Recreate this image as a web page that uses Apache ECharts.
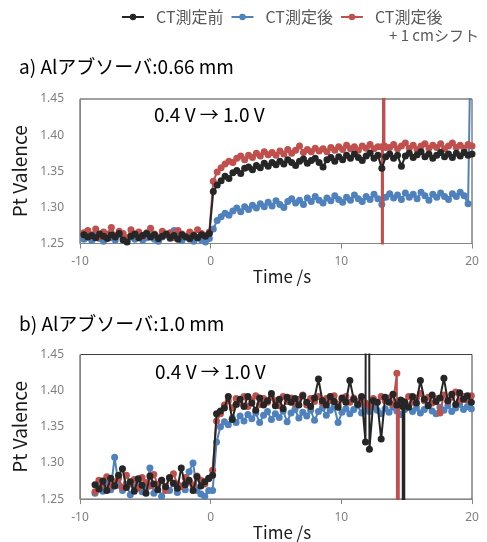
<!DOCTYPE html>
<html><head><meta charset="utf-8">
<script src="https://cdn.jsdelivr.net/npm/echarts/dist/echarts.min.js"></script>
<style>html,body{margin:0;padding:0;background:#fff}#c{width:487px;height:542px}</style>
</head><body><div id="c"></div>
<script>
// ---- data ----
const seriesNames = ['CT測定前', 'CT測定後', 'CT測定後 + 1 cmシフト'];
const panelTitles = ['a) Alアブソーバ:0.66 mm', 'b) Alアブソーバ:1.0 mm'];
const annotation = '0.4 V → 1.0 V';
const xTicks = [-10, 0, 10, 20];
const yTicks = [1.25, 1.30, 1.35, 1.40, 1.45];

// panel a: samples every 0.3 s starting at -9.7 s
const timeStartA = -9.7, timeStepA = 0.3;
const blackA = [
 1.262,1.259,1.261,1.258,1.263,1.260,1.257,1.262,1.259,1.264,
 1.255,1.252,1.260,1.263,1.258,1.261,1.264,1.259,1.262,1.257,
 1.260,1.263,1.258,1.261,1.256,1.262,1.259,1.257,1.261,1.258,
 1.262,1.260,1.264,1.322,1.331,1.337,1.343,1.340,1.348,1.351,
 1.347,1.354,1.356,1.352,1.358,1.355,1.361,1.357,1.362,1.359,
 1.364,1.360,1.366,1.362,1.358,1.364,1.367,1.361,1.365,1.368,
 1.362,1.356,1.366,1.369,1.364,1.370,1.366,1.372,1.368,1.374,
 1.369,1.365,1.371,1.375,1.368,1.372,1.354,1.370,1.374,1.368,
 1.372,1.357,1.371,1.375,1.369,1.373,1.377,1.370,1.374,1.368,
 1.372,1.376,1.370,1.374,1.369,1.375,1.371,1.376,1.372,1.374
];
const blueA = [
 1.256,1.259,1.254,1.261,1.257,1.253,1.260,1.258,1.255,1.262,
 1.257,1.254,1.259,1.256,1.261,1.255,1.258,1.263,1.256,1.253,
 1.259,1.262,1.257,1.268,1.258,1.254,1.260,1.256,1.253,1.258,
 1.255,1.252,1.257,1.270,1.282,1.287,1.292,1.289,1.295,1.299,
 1.294,1.301,1.297,1.303,1.299,1.305,1.301,1.307,1.302,1.309,
 1.304,1.300,1.308,1.312,1.306,1.310,1.304,1.313,1.308,1.315,
 1.310,1.306,1.313,1.309,1.316,1.311,1.307,1.314,1.310,1.317,
 1.312,1.308,1.315,1.311,1.318,1.312,1.304,1.314,1.319,1.313,
 1.317,1.311,1.320,1.314,1.318,1.312,1.321,1.316,1.310,1.318,
 1.314,1.320,1.315,1.311,1.319,1.315,1.321,1.316,1.305,1.650
];
const redA = [
 1.265,1.268,1.262,1.270,1.259,1.266,1.263,1.272,1.261,1.267,
 1.264,1.258,1.269,1.262,1.266,1.260,1.265,1.271,1.263,1.259,
 1.267,1.262,1.265,1.258,1.268,1.263,1.260,1.266,1.262,1.269,
 1.264,1.261,1.266,1.336,1.349,1.355,1.360,1.364,1.362,1.368,
 1.371,1.366,1.372,1.369,1.375,1.371,1.377,1.373,1.376,1.372,
 1.378,1.374,1.380,1.375,1.379,1.385,1.376,1.380,1.377,1.382,
 1.378,1.381,1.377,1.383,1.379,1.384,1.380,1.386,1.381,1.384,
 1.379,1.385,1.382,1.387,1.381,1.384,1.384,1.383,1.383,1.387,
 1.381,1.385,1.389,1.382,1.386,1.380,1.385,1.388,1.382,1.386,
 1.383,1.388,1.381,1.385,1.389,1.383,1.386,1.382,1.387,1.385
];
// extra [time, value] samples read around the glitch at ~13.2 s
const redAExtra = [[13.15, -3.0], [13.2, 3.0], [13.3, 1.385]];

// panel b: samples every 0.3 s starting at -8.85 s
const timeStartB = -8.85, timeStepB = 0.3;
const blackB = [
 1.270,1.264,1.275,1.262,1.279,1.268,1.283,1.292,1.266,1.274,
 1.261,1.278,1.269,1.258,1.282,1.271,1.263,1.276,1.267,1.280,
 1.272,1.265,1.293,1.270,1.276,1.262,1.281,1.268,1.274,1.279,
 1.283,1.368,1.372,1.376,1.392,1.360,1.381,1.388,1.378,1.392,
 1.383,1.373,1.390,1.380,1.386,1.396,1.379,1.388,1.375,1.391,
 1.384,1.389,1.380,1.393,1.384,1.378,1.390,1.416,1.386,1.380,
 1.392,1.385,1.377,1.390,1.384,1.414,1.388,1.381,1.392,1.329,
 1.319,1.386,1.384,1.333,1.391,1.384,1.395,1.380,1.387,1.384,
 1.377,1.392,1.383,1.414,1.388,1.379,1.394,1.385,1.390,1.417,
 1.386,1.395,1.381,1.397,1.388,1.393,1.384
];
const blackBExtra = [[12.0, 3.0], [14.7, 1.378], [14.75, -3.0], [14.82, 1.380]];
const blueB = [
 1.258,1.266,1.261,1.272,1.263,1.308,1.269,1.262,1.270,1.256,
 1.267,1.274,1.260,1.265,1.293,1.258,1.270,1.254,1.266,1.262,
 1.272,1.259,1.268,1.263,1.288,1.300,1.262,1.257,1.254,1.262,
 1.262,1.329,1.350,1.357,1.353,1.362,1.356,1.365,1.358,1.367,
 1.361,1.369,1.356,1.366,1.371,1.360,1.368,1.363,1.372,1.357,
 1.369,1.374,1.362,1.370,1.365,1.373,1.359,1.371,1.376,1.366,
 1.373,1.378,1.356,1.370,1.375,1.368,1.374,1.379,1.369,1.376,
 1.371,1.378,1.373,1.368,1.375,1.370,1.377,1.372,1.367,1.374,
 1.379,1.371,1.376,1.369,1.374,1.380,1.372,1.368,1.377,1.373,
 1.379,1.371,1.376,1.381,1.374,1.378,1.375
];
const redB = [
 1.260,1.276,1.270,1.281,1.268,1.274,1.279,1.266,1.283,1.271,
 1.277,1.265,1.280,1.273,1.268,1.284,1.270,1.276,1.262,1.279,
 1.285,1.271,1.267,1.280,1.274,1.269,1.282,1.276,1.271,1.278,
 1.290,1.358,1.368,1.380,1.386,1.376,1.389,1.383,1.392,1.378,
 1.387,1.393,1.381,1.389,1.384,1.391,1.386,1.379,1.392,1.385,
 1.390,1.382,1.388,1.394,1.380,1.389,1.385,1.392,1.383,1.389,
 1.386,1.393,1.381,1.388,1.392,1.384,1.390,1.385,1.391,1.383,
 1.378,1.389,1.384,1.392,1.386,1.390,1.381,1.424,1.386,1.385,
 1.392,1.384,1.390,1.396,1.386,1.391,1.383,1.389,1.369,1.394,
 1.385,1.391,1.398,1.386,1.392,1.387,1.393
];
const redBExtra = [[14.32, -3.0], [14.4, 1.385]];

// ---- build ----
const COLORS = { black: '#262626', blue: '#4F81BD', red: '#C0504D' };
const FONT = '"Noto Sans CJK JP", "Noto Sans", sans-serif';
const LABEL_FONT = '"Noto Sans", "Open Sans", sans-serif';

function pairs(values, start, step, extra) {
  const arr = values.map((v, i) => [Math.round((start + i * step) * 100) / 100, v]);
  return arr.concat(extra || []).sort((a, b) => a[0] - b[0]);
}
function mk(name, values, start, step, extra, color, gi, z) {
  return {
    name, type: 'line', xAxisIndex: gi, yAxisIndex: gi,
    data: pairs(values, start, step, extra),
    symbol: 'circle', symbolSize: 7, showAllSymbol: true, clip: true,
    lineStyle: { color, width: 2 }, itemStyle: { color }, z,
    emphasis: { disabled: true }, animation: false
  };
}
const grids = [
  { left: 80, right: 15, top: 99, height: 144.5 },
  { left: 80, right: 15, top: 354.5, height: 145 }
];
function xAxis(gi) {
  return {
    type: 'value', gridIndex: gi, min: xTicks[0], max: xTicks[xTicks.length - 1], interval: 10,
    name: 'Time /s', nameLocation: 'middle', nameGap: 21,
    nameTextStyle: { fontSize: 17, color: '#1a1a1a', fontFamily: FONT, padding: [0, 0, 0, 12] },
    axisLine: { show: true, onZero: false, lineStyle: { color: '#868686', width: 1 } },
    axisTick: { show: true, length: 5, lineStyle: { color: '#868686' } },
    axisLabel: { color: '#7f7f7f', fontSize: 12, fontFamily: LABEL_FONT, margin: 12 },
    splitLine: { show: false }
  };
}
function yAxis(gi) {
  return {
    type: 'value', gridIndex: gi, min: yTicks[0], max: yTicks[yTicks.length - 1], interval: 0.05,
    name: 'Pt Valence', nameLocation: 'middle', nameGap: 50,
    nameTextStyle: { fontSize: 19, color: '#1a1a1a', fontFamily: FONT },
    axisLine: { show: true, onZero: false, lineStyle: { color: '#868686', width: 1 } },
    axisTick: { show: false },
    axisLabel: { color: '#7f7f7f', fontSize: 12, fontFamily: LABEL_FONT, margin: 16,
      formatter: v => v.toFixed(2) },
    splitLine: { show: false }
  };
}
const titleStyle = (size) => ({ fontSize: size, fontWeight: 'normal', color: '#000', fontFamily: FONT });

const option = {
  animation: false,
  backgroundColor: '#fff',
  grid: grids.map(g => Object.assign({ show: true, borderColor: '#404040', borderWidth: 1, backgroundColor: 'transparent' }, g)),
  xAxis: [xAxis(0), xAxis(1)],
  yAxis: [yAxis(0), yAxis(1)],
  title: [
    { text: panelTitles[0], left: 19, top: 57, padding: 0, textStyle: titleStyle(19) },
    { text: panelTitles[1], left: 19, top: 314, padding: 0, textStyle: titleStyle(19) },
    { text: annotation, left: 154, top: 105, padding: 0, textStyle: titleStyle(19) },
    { text: annotation, left: 155, top: 362, padding: 0, textStyle: titleStyle(19) },
    { text: '+ 1 cmシフト', left: 389, top: 28, padding: 0, textStyle: { fontSize: 15, color: '#595959', fontFamily: FONT, fontWeight: 'normal' } }
  ],
  legend: {
    data: [seriesNames[0], seriesNames[1], seriesNames[2]],
    left: 121, top: 9, padding: 0, itemWidth: 22, itemHeight: 8, itemGap: 7,
    formatter: n => '{t|' + (n === seriesNames[2] ? 'CT測定後' : n) + '}',
    textStyle: { fontSize: 16, color: '#595959', fontFamily: FONT,
      rich: { t: { fontSize: 16, color: '#595959', fontFamily: FONT, padding: [0, 0, 0, 7] } } },
    selectedMode: false
  },
  series: [
    mk(seriesNames[1], blueA, timeStartA, timeStepA, null, COLORS.blue, 0, 2),
    mk(seriesNames[2], redA, timeStartA, timeStepA, redAExtra, COLORS.red, 0, 3),
    mk(seriesNames[0], blackA, timeStartA, timeStepA, null, COLORS.black, 0, 4),
    mk(seriesNames[1], blueB, timeStartB, timeStepB, null, COLORS.blue, 1, 2),
    mk(seriesNames[2], redB, timeStartB, timeStepB, redBExtra, COLORS.red, 1, 3),
    mk(seriesNames[0], blackB, timeStartB, timeStepB, blackBExtra, COLORS.black, 1, 4)
  ]
};
const chart = echarts.init(document.getElementById('c'), null, { renderer: 'canvas' });
chart.setOption(option);
</script></body></html>
